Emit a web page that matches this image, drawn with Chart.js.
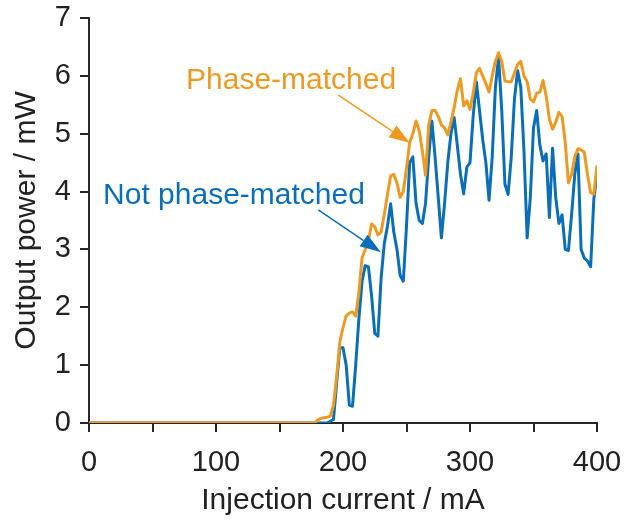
<!DOCTYPE html>
<html>
<head>
<meta charset="utf-8">
<script src="https://cdn.jsdelivr.net/npm/chart.js@4.4.1/dist/chart.umd.min.js"></script>
<style>
  html, body { margin: 0; padding: 0; background: #ffffff; }
  canvas { display: block; }
</style>
</head>
<body>
<canvas id="chart" width="632" height="519"></canvas>
<script>
// Injection current (mA) shared by both measurement series
const currents = [
  0, 175, 177.5,
  180, 182.5, 185, 187.5, 190, 192.5, 195, 197.5, 200, 202.5,
  205, 207.5, 210, 212.5, 215, 217.5, 220, 222.5, 225, 227.5,
  230, 232.5, 235, 237.5, 240, 242.5, 245, 247.5, 250, 252.5,
  255, 257.5, 260, 262.5, 265, 267.5, 270, 272.5, 275, 277.5,
  280, 282.5, 285, 287.5, 290, 292.5, 295, 297.5, 300, 302.5,
  305, 307.5, 310, 312.5, 315, 317.5, 320, 322.5, 325, 327.5,
  330, 332.5, 335, 337.5, 340, 342.5, 345, 347.5, 350, 352.5,
  355, 357.5, 360, 362.5, 365, 367.5, 370, 372.5, 375, 377.5,
  380, 382.5, 385, 387.5, 390, 392.5, 395, 397.5, 400
];

// Output power (mW), phase-matched
const phaseMatched = [
  0, 0, 0,
  0.05, 0.08, 0.09, 0.10, 0.12, 0.30, 0.80, 1.40, 1.65, 1.85,
  1.90, 1.92, 1.85, 2.25, 2.85, 3.00, 3.15, 3.44, 3.39, 3.25,
  3.30, 3.60, 3.95, 4.27, 4.30, 4.15, 3.90, 4.00, 4.40, 4.85,
  5.00, 5.22, 5.05, 4.70, 4.28, 5.15, 5.40, 5.40, 5.30, 5.15,
  5.10, 4.98, 5.20, 5.45, 5.75, 5.95, 5.48, 5.57, 5.42, 5.70,
  6.05, 6.13, 6.00, 5.87, 5.72, 6.00, 6.25, 6.40, 6.25, 5.91,
  5.90, 5.90, 6.05, 6.20, 6.25, 6.00, 5.90, 5.60, 5.55, 5.70,
  5.72, 5.92, 5.65, 5.25, 5.08, 5.20, 5.37, 5.30, 4.85, 4.15,
  4.30, 4.60, 4.74, 4.72, 4.68, 4.30, 3.98, 3.96, 4.45
];

// Output power (mW), not phase-matched
const notPhaseMatched = [
  0, 0, 0,
  0, 0, 0, 0, 0.03, 0.06, 0.70, 1.30, 1.30, 1.00,
  0.31, 0.29, 1.00, 1.80, 2.45, 2.72, 2.70, 2.20, 1.55, 1.50,
  2.50, 3.10, 3.40, 3.79, 3.30, 3.00, 2.55, 2.45, 3.40, 4.50,
  4.60, 3.80, 3.50, 3.45, 3.80, 4.60, 5.22, 4.60, 3.90, 3.20,
  3.80, 4.50, 5.00, 5.28, 4.80, 4.30, 3.96, 4.42, 4.50, 5.30,
  5.90, 5.40, 4.90, 4.50, 3.85, 4.60, 5.80, 6.33, 5.40, 4.13,
  3.95, 4.60, 5.60, 6.09, 5.80, 4.70, 3.20, 3.90, 5.10, 5.40,
  4.80, 4.53, 4.65, 3.55, 4.75, 3.90, 3.45, 3.60, 3.00, 2.98,
  3.60, 4.30, 4.65, 3.00, 2.85, 2.80, 2.70, 3.87, 4.30
];

// Axis ranges and tick spacing
const xRange = [0, 400];
const xTickStep = 50;
const xLabelStep = 100;
const yRange = [0, 7];
const yTickStep = 1;

const ORANGE = '#EC9A22';
const BLUE = '#0A6FB8';
const AXIS = '#262626';
const FONT = "'Liberation Sans', Arial, Helvetica, sans-serif";

// Callout labels with arrows, anchored in data units
const callouts = [
  { text: 'Phase-matched', color: ORANGE, textAt: [76.4, 5.78], from: [196.3, 5.667], to: [252.8, 4.84] },
  { text: 'Not phase-matched', color: BLUE, textAt: [11.1, 3.79], from: [180.6, 3.684], to: [229.9, 2.95] }
];

const calloutPlugin = {
  id: 'callouts',
  afterDatasetsDraw(chart) {
    const { ctx, scales: { x, y } } = chart;
    ctx.save();
    callouts.forEach(c => {
      const tx = x.getPixelForValue(c.textAt[0]);
      const ty = y.getPixelForValue(c.textAt[1]);
      ctx.fillStyle = c.color;
      ctx.font = '30px ' + FONT;
      ctx.textAlign = 'left';
      ctx.textBaseline = 'alphabetic';
      ctx.fillText(c.text, tx, ty);

      const x1 = x.getPixelForValue(c.from[0]);
      const y1 = y.getPixelForValue(c.from[1]);
      const x2 = x.getPixelForValue(c.to[0]);
      const y2 = y.getPixelForValue(c.to[1]);
      const ang = Math.atan2(y2 - y1, x2 - x1);
      const headLen = 21, headHalf = 7;
      const bx = x2 - headLen * Math.cos(ang);
      const by = y2 - headLen * Math.sin(ang);
      ctx.strokeStyle = c.color;
      ctx.lineWidth = 1.5;
      ctx.beginPath();
      ctx.moveTo(x1, y1);
      ctx.lineTo(bx, by);
      ctx.stroke();
      ctx.beginPath();
      ctx.moveTo(x2, y2);
      ctx.lineTo(bx + headHalf * Math.sin(ang), by - headHalf * Math.cos(ang));
      ctx.lineTo(bx - headHalf * Math.sin(ang), by + headHalf * Math.cos(ang));
      ctx.closePath();
      ctx.fill();
    });
    ctx.restore();
  }
};

const toPoints = values => currents.map((c, i) => ({ x: c, y: values[i] }));

new Chart(document.getElementById('chart'), {
  type: 'line',
  data: {
    datasets: [
      {
        label: 'Phase-matched',
        data: toPoints(phaseMatched),
        borderColor: ORANGE,
        borderWidth: 3,
        pointRadius: 0,
        tension: 0,
        borderJoinStyle: 'round'
      },
      {
        label: 'Not phase-matched',
        data: toPoints(notPhaseMatched),
        borderColor: BLUE,
        borderWidth: 3,
        pointRadius: 0,
        tension: 0,
        borderJoinStyle: 'round'
      }
    ]
  },
  options: {
    responsive: false,
    animation: false,
    devicePixelRatio: 1,
    layout: { padding: { top: 18, right: 35, left: 0, bottom: 0 } },
    plugins: {
      legend: { display: false },
      tooltip: { enabled: false }
    },
    scales: {
      x: {
        type: 'linear',
        min: xRange[0],
        max: xRange[1],
        afterFit(scale) {
          scale.height = 96;
          scale.paddingLeft = 0;
          scale.paddingRight = 0;
        },
        border: { color: AXIS, width: 2 },
        grid: { drawOnChartArea: false, drawTicks: true, tickLength: 9, color: AXIS, lineWidth: 2 },
        ticks: {
          stepSize: xTickStep,
          autoSkip: false,
          maxRotation: 0,
          padding: 14,
          color: '#222',
          font: { family: FONT, size: 29 },
          callback: v => (v % xLabelStep === 0 ? String(v) : '')
        },
        title: {
          display: true,
          text: 'Injection current / mA',
          color: '#222',
          font: { family: FONT, size: 30 },
          padding: { top: 0, bottom: 0 }
        }
      },
      y: {
        min: yRange[0],
        max: yRange[1],
        afterFit(scale) {
          scale.width = 89;
          scale.paddingTop = 0;
          scale.paddingBottom = 0;
        },
        border: { color: AXIS, width: 2 },
        grid: { drawOnChartArea: false, drawTicks: true, tickLength: 9, color: AXIS, lineWidth: 2 },
        ticks: {
          stepSize: yTickStep,
          padding: 9,
          color: '#222',
          font: { family: FONT, size: 29 }
        },
        title: {
          display: true,
          text: 'Output power / mW',
          color: '#222',
          font: { family: FONT, size: 30 },
          padding: { top: 9, bottom: 0 }
        }
      }
    }
  },
  plugins: [calloutPlugin]
});
</script>
</body>
</html>
